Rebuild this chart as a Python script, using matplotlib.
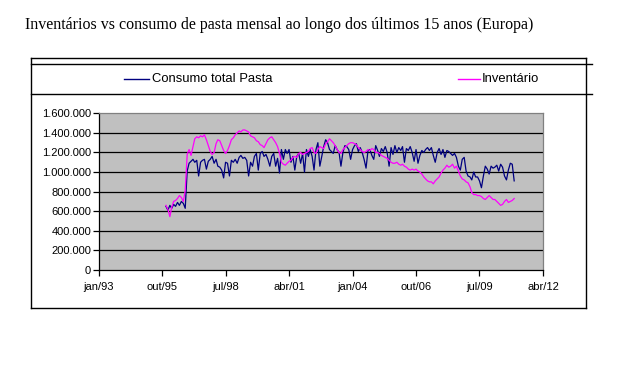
import numpy as np
import pandas as pd
import matplotlib
matplotlib.use('Agg')
import matplotlib.pyplot as plt
import matplotlib.dates as mdates
from matplotlib.lines import Line2D

plt.rcParams['font.family'] = ['Liberation Sans', 'DejaVu Sans']

# monthly data, first value is dez/95
start = '1995-12-01'
consumo = [650, 610, 660, 630, 670, 650, 690, 660, 700, 680, 630, 1010,
           1090, 1110, 1130, 1100, 1120, 960, 1100, 1120, 1130, 1030, 1110, 1130,
           1160, 1090, 1130, 1060, 1050, 1020, 940, 1100, 1090, 960, 1120, 1100,
           1130, 1090, 1150, 1170, 1140, 1150, 1120, 960, 1100, 1060, 1160, 1190,
           1020, 1190, 1210, 1160, 1180, 1130, 1060, 1160, 1190, 1060, 1140, 990,
           1230, 1130, 1230, 1190, 1230, 1100, 1160, 1020, 1160, 1190, 1090, 1190,
           1000, 1230, 1160, 1230, 1160, 1020, 1230, 1300, 1060, 1160, 1260, 1330,
           1300, 1230, 1210, 1190, 1270, 1230, 1200, 1060, 1200, 1270, 1260, 1230,
           1130, 1230, 1270, 1290, 1210, 1250, 1200, 1130, 1040, 1220, 1230, 1170,
           1130, 1270, 1220, 1160, 1240, 1210, 1260, 1200, 1060, 1250, 1180, 1270,
           1200, 1250, 1220, 1260, 1100, 1240, 1220, 1260, 1200, 1110, 1230, 1090,
           1170, 1220, 1200, 1230, 1250, 1220, 1250, 1170, 1100, 1200, 1240, 1180,
           1230, 1150, 1220, 1210, 1190, 1170, 1190, 1150, 1060, 1020, 1130, 1150,
           1010, 960, 950, 920, 1000, 950, 950, 910, 840, 960, 1060, 1030,
           980, 1060, 1040, 1050, 1070, 1010, 1080, 1050, 960, 920, 1020, 1090,
           1080, 910]
inventario = [660, 620, 545, 640, 700, 710, 730, 760, 740, 700, 810, 1180,
              1230, 1170, 1260, 1340, 1360, 1350, 1370, 1360, 1380, 1330, 1270, 1210,
              1180, 1200, 1290, 1330, 1320, 1270, 1220, 1190, 1220, 1270, 1330, 1350,
              1380, 1400, 1420, 1410, 1430, 1430, 1420, 1410, 1370, 1360, 1350, 1320,
              1310, 1280, 1270, 1250, 1290, 1330, 1350, 1360, 1330, 1300, 1260, 1190,
              1100, 1080, 1070, 1090, 1110, 1120, 1150, 1160, 1150, 1190, 1200, 1180,
              1190, 1200, 1210, 1240, 1250, 1200, 1190, 1230, 1260, 1250, 1240, 1290,
              1310, 1340, 1320, 1300, 1270, 1230, 1200, 1190, 1230, 1250, 1270, 1290,
              1300, 1300, 1290, 1280, 1250, 1230, 1210, 1200, 1210, 1230, 1220, 1240,
              1230, 1200, 1200, 1190, 1170, 1160, 1150, 1140, 1120, 1100, 1090, 1090,
              1100, 1080, 1070, 1080, 1060, 1050, 1030, 1020, 1030, 1020, 1030, 1010,
              1000, 980, 950, 930, 910, 900, 900, 880, 910, 930, 950, 990,
              1020, 1040, 1070, 1050, 1060, 1080, 1040, 1060, 1010, 960, 930, 920,
              900, 890, 850, 790, 770, 770, 760, 760, 750, 730, 720, 740,
              760, 740, 720, 720, 700, 680, 660, 670, 700, 720, 690, 700,
              710, 730]

tick_dates = ['1993-01-01', '1995-10-01', '1998-07-01', '2001-04-01',
              '2004-01-01', '2006-10-01', '2009-07-01', '2012-04-01']
tick_labels = ['jan/93', 'out/95', 'jul/98', 'abr/01', 'jan/04', 'out/06', 'jul/09', 'abr/12']
yticks = np.arange(0, 1600001, 200000)

dates = pd.date_range(start, periods=len(consumo), freq='MS')
consumo = np.array(consumo) * 1000
inventario = np.array(inventario) * 1000

W, H = 636, 371
fig = plt.figure(figsize=(W / 100, H / 100), dpi=100)

fig.text(25 / W, 1 - 25 / H, 'Inventários vs consumo de pasta mensal ao longo dos últimos 15 anos (Europa)',
         family='Liberation Serif', fontsize=11.5, va='center', ha='left')

# chart border and legend box lines
def fl(x0, y0, x1, y1):
    fig.add_artist(Line2D([x0 / W, x1 / W], [1 - y0 / H, 1 - y1 / H], color='black', lw=1.0))

fl(31, 57.5, 586, 57.5)
fl(31, 307.5, 586, 307.5)
fl(31, 57.5, 31, 307.5)
fl(586, 57.5, 586, 307.5)
fl(31, 63.5, 592, 63.5)
fl(31, 93.5, 592, 93.5)

# legend
fl_y = 1 - 78.5 / H
fig.add_artist(Line2D([124 / W, 149 / W], [fl_y, fl_y], color='#000080', lw=1.0))
fig.text(152 / W, fl_y, 'Consumo total Pasta', fontsize=9.4, va='center', ha='left')
fig.add_artist(Line2D([458 / W, 480 / W], [fl_y, fl_y], color='#FF00FF', lw=1.0))
fig.text(482 / W, fl_y, 'Inventário', fontsize=9.4, va='center', ha='left')

ax = fig.add_axes([98.7 / W, 1 - 270 / H, (543 - 98.7) / W, (270 - 113.3) / H])
ax.set_facecolor('#C0C0C0')
ax.hlines(yticks[1:-1], 0, 1, transform=ax.get_yaxis_transform(), color='black', lw=0.9, zorder=1)
ax.plot(dates, consumo, color='#000080', lw=0.9, zorder=3)
ax.plot(dates, inventario, color='#FF00FF', lw=0.9, zorder=4)

tk = mdates.date2num(pd.to_datetime(tick_dates))
ax.set_xlim(tk[0], tk[-1])
ax.set_xticks(tk)
ax.set_xticklabels(tick_labels)
ax.set_ylim(0, 1600000)
ax.set_yticks(yticks)
ax.set_yticklabels([f'{v:,.0f}'.replace(',', '.') for v in yticks])
ax.tick_params(axis='both', labelsize=8, length=4, width=0.9, color='black', direction='out')
ax.tick_params(axis='y', pad=1.5)
ax.tick_params(axis='x', pad=5)
for s in ['left', 'bottom']:
    ax.spines[s].set_color('black')
    ax.spines[s].set_linewidth(0.9)
for s in ['top', 'right']:
    ax.spines[s].set_color('#808080')
    ax.spines[s].set_linewidth(0.9)

fig.savefig('out.png', dpi=100)
